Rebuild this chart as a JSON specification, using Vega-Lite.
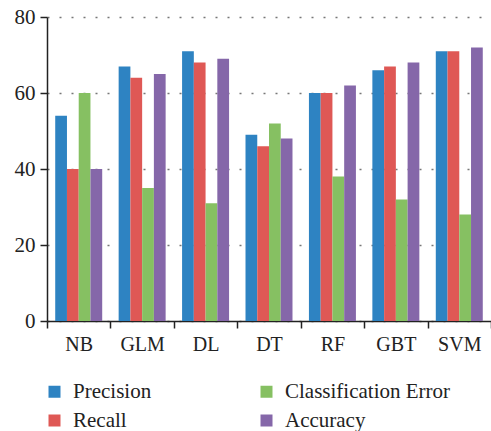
{
  "$schema": "https://vega.github.io/schema/vega-lite/v6.json",
  "width": 444,
  "height": 304,
  "autosize": {"type": "none"},
  "padding": {"left": 47, "top": 17, "right": 0, "bottom": 110},
  "config": {"font": "Liberation Serif", "view": {"stroke": null}},
  "data": {
    "values": [
      {"model": "NB", "metric": "Precision", "value": 54},
      {"model": "NB", "metric": "Recall", "value": 40},
      {"model": "NB", "metric": "Classification Error", "value": 60},
      {"model": "NB", "metric": "Accuracy", "value": 40},
      {"model": "GLM", "metric": "Precision", "value": 67},
      {"model": "GLM", "metric": "Recall", "value": 64},
      {"model": "GLM", "metric": "Classification Error", "value": 35},
      {"model": "GLM", "metric": "Accuracy", "value": 65},
      {"model": "DL", "metric": "Precision", "value": 71},
      {"model": "DL", "metric": "Recall", "value": 68},
      {"model": "DL", "metric": "Classification Error", "value": 31},
      {"model": "DL", "metric": "Accuracy", "value": 69},
      {"model": "DT", "metric": "Precision", "value": 49},
      {"model": "DT", "metric": "Recall", "value": 46},
      {"model": "DT", "metric": "Classification Error", "value": 52},
      {"model": "DT", "metric": "Accuracy", "value": 48},
      {"model": "RF", "metric": "Precision", "value": 60},
      {"model": "RF", "metric": "Recall", "value": 60},
      {"model": "RF", "metric": "Classification Error", "value": 38},
      {"model": "RF", "metric": "Accuracy", "value": 62},
      {"model": "GBT", "metric": "Precision", "value": 66},
      {"model": "GBT", "metric": "Recall", "value": 67},
      {"model": "GBT", "metric": "Classification Error", "value": 32},
      {"model": "GBT", "metric": "Accuracy", "value": 68},
      {"model": "SVM", "metric": "Precision", "value": 71},
      {"model": "SVM", "metric": "Recall", "value": 71},
      {"model": "SVM", "metric": "Classification Error", "value": 28},
      {"model": "SVM", "metric": "Accuracy", "value": 72}
    ]
  },
  "mark": {"type": "bar"},
  "encoding": {
    "x": {
      "field": "model",
      "type": "nominal",
      "sort": ["NB", "GLM", "DL", "DT", "RF", "GBT", "SVM"],
      "scale": {"paddingInner": 0, "paddingOuter": 0},
      "axis": {
        "title": null,
        "labelAngle": 0,
        "tickBand": "extent",
        "tickSize": 7,
        "tickColor": "#222",
        "tickWidth": 1.5,
        "domainColor": "#222",
        "domainWidth": 1.5,
        "labelFontSize": 20,
        "labelColor": "#222",
        "labelPadding": 6
      }
    },
    "xOffset": {
      "field": "metric",
      "type": "nominal",
      "sort": ["Precision", "Recall", "Classification Error", "Accuracy"],
      "scale": {"paddingInner": 0, "paddingOuter": 0.7}
    },
    "y": {
      "field": "value",
      "type": "quantitative",
      "scale": {"domain": [0, 80], "nice": false},
      "axis": {
        "title": null,
        "values": [0, 20, 40, 60, 80],
        "tickSize": 7,
        "tickColor": "#222",
        "tickWidth": 1.5,
        "domainColor": "#222",
        "domainWidth": 1.5,
        "labelFontSize": 21,
        "labelColor": "#222",
        "labelPadding": 5,
        "gridDash": [2, 10],
        "gridColor": "#777",
        "gridWidth": 1.5
      }
    },
    "color": {
      "field": "metric",
      "type": "nominal",
      "scale": {
        "domain": ["Precision", "Recall", "Classification Error", "Accuracy"],
        "range": ["#2e83c2", "#df5855", "#86c062", "#8567a9"]
      },
      "legend": {
        "title": null,
        "orient": "none",
        "legendX": -3,
        "legendY": 364,
        "columns": 2,
        "symbolType": "square",
        "symbolSize": 144,
        "symbolStrokeWidth": 0,
        "labelFontSize": 21,
        "labelColor": "#222",
        "labelOffset": 8,
        "labelLimit": 300,
        "columnPadding": 104,
        "rowPadding": 7
      }
    }
  }
}
